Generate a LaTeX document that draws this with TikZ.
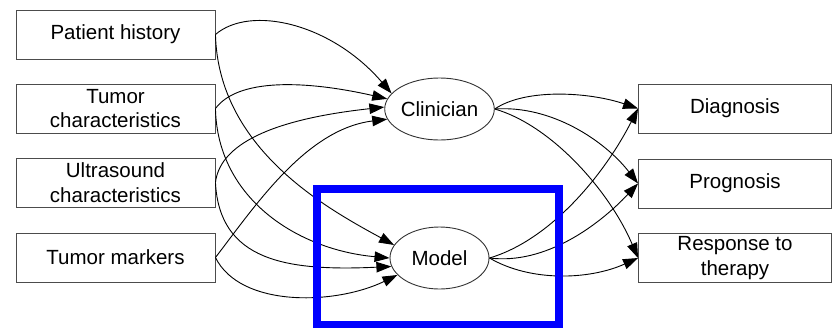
\documentclass[tikz,border=0pt]{standalone}
\usepackage{fontspec}
\setmainfont{Liberation Sans}
\usetikzlibrary{arrows.meta,shapes.geometric}

\tikzset{
  factor/.style={draw=black!70, line width=0.9pt, minimum width=199pt, minimum height=49pt,
    inner sep=0pt, align=center, font=\fontsize{20.5}{24.5}\selectfont},
  outcome/.style={factor, minimum width=193pt},
  judge/.style={draw=black!80, line width=0.9pt, ellipse, minimum width=99pt, minimum height=62pt,
    inner sep=0pt, font=\fontsize{20.5}{24.5}\selectfont},
  link/.style={line width=0.9pt, -{Triangle[length=15pt,width=10.5pt]}},
  highlight/.style={draw={rgb,255:red,0;green,0;blue,255}, line width=8pt}
}

\begin{document}
\begin{tikzpicture}[x=1pt,y=-1pt]
  \useasboundingbox (0,0) rectangle (832,327);

  % input factors
  \node[factor] (ph) at (115.5,34.5) {Patient history};
  \node[factor] (tc) at (115.5,108.5) {Tumor\\characteristics};
  \node[factor] (uc) at (115.5,182.5) {Ultrasound\\characteristics};
  \node[factor] (tm) at (115.5,257.5) {Tumor markers};

  % decision makers
  \node[judge] (cl) at (439.5,109) {Clinician};
  \node[judge] (mo) at (439.5,258) {Model};

  % outcomes
  \node[outcome] (dx) at (735,108.5) {Diagnosis};
  \node[outcome] (px) at (735,183.5) {Prognosis};
  \node[outcome] (rt) at (735,258) {Response to\\therapy};

  % factors -> clinician
  \draw[link] (ph.east) .. controls +(35,-30) and +(-60,-70) .. (cl.162);
  \draw[link] (tc.east) .. controls +(25,-33.5) and +(-70,-16) .. (cl.169);
  \draw[link] (uc.east) .. controls +(5,-42.5) and +(-101,11) .. (cl.178);
  \draw[link] (tm.east) .. controls +(40,-52) and +(-81,10) .. (cl.191);

  % factors -> model
  \draw[link] (ph.east) .. controls +(3,115) and +(-66,-36) .. (mo.164);
  \draw[link] (tc.east) .. controls +(2,91.5) and +(-90,-8) .. (mo.180);
  \draw[link] (uc.east) .. controls +(4,78) and +(-106,5) .. (mo.190);
  \draw[link] (tm.east) .. controls +(25,50.5) and +(-62,30) .. (mo.202);

  % clinician -> outcomes
  \draw[link] (cl.east) .. controls +(31,-21) and +(-49,-16.5) .. (dx.west);
  \draw[link] (cl.east) .. controls +(56,-4) and +(-34,-43.5) .. (px.west);
  \draw[link] (cl.east) .. controls +(56,16) and +(-29,-68) .. (rt.west);

  % model -> outcomes
  \draw[link] (mo.east) .. controls +(61,-18) and +(-34,66.5) .. (dx.west);
  \draw[link] (mo.east) .. controls +(56,7) and +(-39,41.5) .. (px.west);
  \draw[link] (mo.east) .. controls +(41,24) and +(-49,22) .. (rt.west);

  % frame around the model
  \draw[highlight] (316.7,188.7) rectangle (558.8,324.5);
\end{tikzpicture}
\end{document}
